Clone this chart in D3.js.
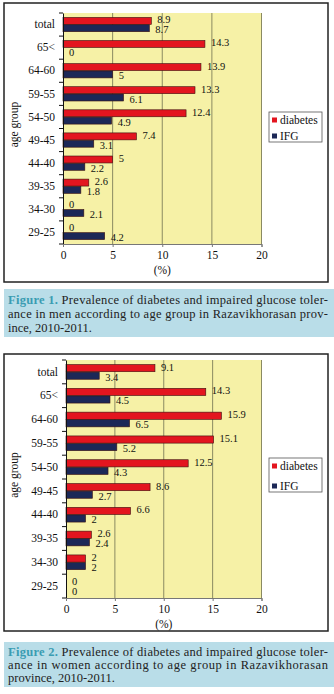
<!DOCTYPE html>
<html>
<head>
<meta charset="utf-8">
<script src="https://cdn.jsdelivr.net/npm/d3@7"></script>
<style>
  html, body { margin: 0; padding: 0; background: #ffffff; }
  svg { display: block; }
  svg text { font-family: "Liberation Serif", "Times New Roman", Times, serif !important; }
</style>
</head>
<body>
<svg id="chart" width="334" height="694"></svg>
<script>
// ---- data ----
const categories = ["total", "65<", "64-60", "59-55", "54-50", "49-45", "44-40", "39-35", "34-30", "29-25"];
const seriesNames = ["diabetes", "IFG"];
const menDiabetes = [8.9, 14.3, 13.9, 13.3, 12.4, 7.4, 5, 2.6, 0, 0];
const menIFG = [8.7, 0, 5, 6.1, 4.9, 3.1, 2.2, 1.8, 2.1, 4.2];
const womenDiabetes = [9.1, 14.3, 15.9, 15.1, 12.5, 8.6, 6.6, 2.6, 2, 0];
const womenIFG = [3.4, 4.5, 6.5, 5.2, 4.3, 2.7, 2, 2.4, 2, 0];
const xTicks = [0, 5, 10, 15, 20];
const xLabel = "(%)";
const yLabel = "age group";
const caption1 = ["Figure 1.", " Prevalence of diabetes and impaired glucose toler-", "ance in men according to age group in Razavikhorasan prov-", "ince, 2010-2011."];
const caption2 = ["Figure 2.", " Prevalence of diabetes and impaired glucose toler-", "ance in women according to age group in Razavikhorasan", "province, 2010-2011."];

const colors = { diabetes: "#e3151f", IFG: "#1c2857" };
const svg = d3.select("#chart");
const FONT = '"Liberation Serif", "Times New Roman", Times, serif';

function drawPanel(cfg) {
  const g = svg.append("g").attr("font-family", FONT);
  g.append("rect").attr("x", cfg.box[0]).attr("y", cfg.box[1])
    .attr("width", cfg.box[2] - cfg.box[0]).attr("height", cfg.box[3] - cfg.box[1])
    .attr("fill", "#fff").attr("stroke", "#222").attr("stroke-width", 1.5);

  const x = d3.scaleLinear().domain([0, 20]).range([cfg.plot.x0, cfg.plot.x1]);
  const y = d3.scaleBand().domain(categories).range([cfg.plot.y0, cfg.plot.y1]);
  const inner = d3.scaleBand().domain(seriesNames).range([0, y.bandwidth()]).paddingInner(0.05).paddingOuter(0.6);

  g.append("rect").attr("x", x(0)).attr("y", cfg.plot.y0)
    .attr("width", x(20) - x(0)).attr("height", cfg.plot.y1 - cfg.plot.y0)
    .attr("fill", "#f6f1a6");

  g.append("g").selectAll("line").data(xTicks.filter(d => d > 0)).join("line")
    .attr("x1", d => x(d)).attr("x2", d => x(d))
    .attr("y1", cfg.plot.y0).attr("y2", cfg.plot.y1)
    .attr("stroke", "#8a8a62").attr("stroke-width", 1);

  const rows = categories.map((c, i) => ({ c, vals: [cfg.d[i], cfg.f[i]] }));
  const rowG = g.append("g").selectAll("g").data(rows).join("g")
    .attr("transform", d => `translate(0,${y(d.c)})`);
  rowG.selectAll("rect").data(d => d.vals.map((v, j) => ({ v, s: seriesNames[j] }))).join("rect")
    .attr("x", x(0)).attr("y", d => inner(d.s))
    .attr("width", d => x(d.v) - x(0)).attr("height", inner.bandwidth())
    .attr("fill", d => colors[d.s])
    .attr("stroke", d => d.v > 0 ? "#3a1010" : "none").attr("stroke-width", 0.6);
  rowG.selectAll("text").data(d => d.vals.map((v, j) => ({ v, s: seriesNames[j] }))).join("text")
    .attr("x", d => x(d.v) + 6)
    .attr("y", d => inner(d.s) + inner.bandwidth() / 2 + (d.s === "IFG" ? 5 : 2.5))
    .attr("font-size", 10.5).attr("fill", "#111")
    .text(d => d.v);

  const yAxis = g.append("g").attr("transform", `translate(${x(0)},0)`)
    .call(d3.axisLeft(y).tickSize(0).tickPadding(8));
  yAxis.attr("font-family", FONT);
  yAxis.select(".domain").attr("stroke", "#111");
  yAxis.selectAll("text").attr("font-size", 11.5).attr("fill", "#111");
  const bounds = categories.map(c => y(c)).concat([cfg.plot.y1]);
  g.append("g").selectAll("line").data(bounds).join("line")
    .attr("x1", x(0) - 4).attr("x2", x(0)).attr("y1", d => d).attr("y2", d => d)
    .attr("stroke", "#111");

  const xAxis = g.append("g").attr("transform", `translate(0,${cfg.plot.y1})`)
    .call(d3.axisBottom(x).tickValues(xTicks).tickSize(3).tickPadding(4));
  xAxis.attr("font-family", FONT);
  xAxis.select(".domain").attr("stroke", "#777");
  xAxis.selectAll(".tick line").attr("stroke", "#777");
  xAxis.selectAll("text").attr("font-size", 11.5).attr("fill", "#111");

  g.append("text").attr("x", x(10)).attr("y", cfg.plot.y1 + 30)
    .attr("text-anchor", "middle").attr("font-size", 11.5).attr("fill", "#111").text(xLabel);

  g.append("text")
    .attr("transform", `translate(${cfg.yLabelX},${(cfg.plot.y0 + cfg.plot.y1) / 2 - 4}) rotate(-90)`)
    .attr("text-anchor", "middle").attr("font-size", 11.5).attr("fill", "#111").text(yLabel);

  const lg = g.append("g");
  lg.append("rect").attr("x", cfg.legend[0]).attr("y", cfg.legend[1])
    .attr("width", 53).attr("height", cfg.legend[2])
    .attr("fill", "#fff").attr("stroke", "#555").attr("stroke-width", 0.8);
  seriesNames.forEach((s, i) => {
    const yy = cfg.legend[1] + 8 + i * (cfg.legend[2] - 14);
    lg.append("rect").attr("x", cfg.legend[0] + 3).attr("y", yy - 2.5)
      .attr("width", 5).attr("height", 5).attr("fill", colors[s]);
    lg.append("text").attr("x", cfg.legend[0] + 11).attr("y", yy + 4)
      .attr("font-size", 11.5).attr("fill", "#111").text(s);
  });

  const cg = g.append("g");
  cg.append("rect").attr("x", 4).attr("y", cfg.cap[0]).attr("width", 330).attr("height", cfg.cap[1] - cfg.cap[0])
    .attr("fill", "#b9dde8");
  const lh = (cfg.cap[1] - cfg.cap[0] - 6) / 3;
  const t1 = cg.append("text").attr("x", 8).attr("y", cfg.cap[0] + 4 + lh * 0.8)
    .attr("font-size", 12.5).attr("fill", "#222")
    .attr("textLength", 320).attr("lengthAdjust", "spacing");
  t1.append("tspan").attr("font-weight", "bold").attr("fill", "#3a9cb2").text(cfg.caption[0]);
  t1.append("tspan").text(cfg.caption[1]);
  cg.append("text").attr("x", 8).attr("y", cfg.cap[0] + 4 + lh * 1.8)
    .attr("font-size", 12.5).attr("fill", "#222")
    .attr("textLength", 320).attr("lengthAdjust", "spacing").text(cfg.caption[2]);
  cg.append("text").attr("x", 8).attr("y", cfg.cap[0] + 4 + lh * 2.8)
    .attr("font-size", 12.5).attr("fill", "#222").text(cfg.caption[3]);
}

drawPanel({
  box: [4, 3, 328, 282],
  plot: { x0: 63, x1: 261.5, y0: 13, y1: 244 },
  d: menDiabetes, f: menIFG,
  legend: [269, 112, 30],
  yLabelX: 18,
  cap: [289, 337],
  caption: caption1
});
drawPanel({
  box: [4, 354, 328, 631],
  plot: { x0: 66, x1: 261.5, y0: 360, y1: 598 },
  d: womenDiabetes, f: womenIFG,
  legend: [269, 458, 34],
  yLabelX: 18,
  cap: [642, 687],
  caption: caption2
});
</script>
</body>
</html>
